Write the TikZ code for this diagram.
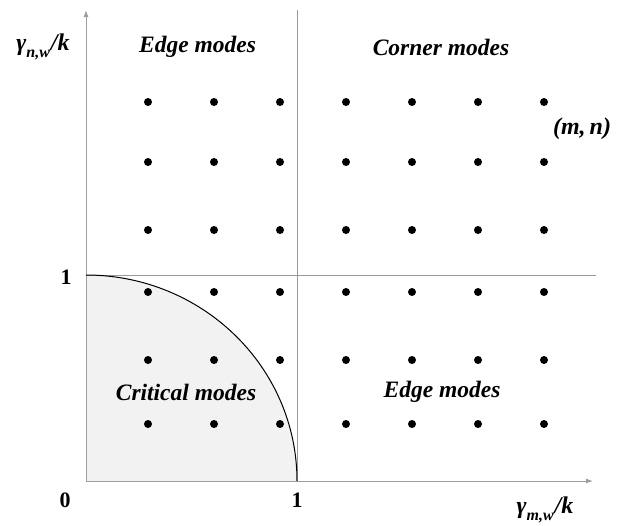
\documentclass[tikz,border=0pt]{standalone}
\usepackage{fontspec}
\setmainfont{Liberation Serif}
\usetikzlibrary{arrows.meta}
\newcommand{\subtxt}[1]{\raisebox{-0.3em}{\fontsize{16}{16}\selectfont #1}}
\tikzset{
  axis/.style={draw=black!38, line width=1pt, -{Latex[length=7pt,width=5pt]}},
  guide/.style={draw=black!40, line width=0.7pt},
  dot/.style={circle, fill=black, inner sep=0pt, minimum size=8pt},
  region/.style={font=\fontsize{23.5}{26}\selectfont\bfseries\itshape},
  tick/.style={font=\fontsize{22}{24}\selectfont\bfseries},
  axlabel/.style={font=\fontsize{24}{26}\selectfont\bfseries\itshape},
}
\begin{document}
\begin{tikzpicture}[x=1pt,y=-1pt]
\useasboundingbox (0,0) rectangle (620,525);
\coordinate (O) at (86,481);
\coordinate (Y1) at (86,275);
\coordinate (X1) at (297,481);
\coordinate (Ytop) at (86,10);
\coordinate (Xend) at (593,481);
\coordinate (Vtop) at (297,10);
\coordinate (Hend) at (596,275);
% shaded critical region
\fill[black!5] (O) -- (Y1) arc[start angle=-90, end angle=0, x radius=211, y radius=206] -- cycle;
% guide lines
\draw[guide] (X1) -- (Vtop);
\draw[guide] (Y1) -- (Hend);
% axes
\draw[axis] (O) -- (Ytop);
\draw[axis] (O) -- (Xend);
% arc
\draw[black, line width=1pt] (Y1) arc[start angle=-90, end angle=0, x radius=211, y radius=206];
% dots
\foreach \c/\x in {1/148,2/214,3/280,4/346,5/412,6/478,7/544}{
  \foreach \r/\y in {1/102,2/162,3/230,4/292,5/360,6/424}{
    \node[dot] (d\c\r) at (\x,\y) {};
  }
}
% labels
\node[region] (tl) at (197.5,47) {Edge modes};
\node[region] (tr) at (441,47) {Corner modes};
\node[region] (bl) at (186,392) {Critical modes};
\node[region] (br) at (442,392) {Edge modes};
\node[axlabel] (mn) at (582,129) {(m,\,n)};
\node[tick] (one y) at (66,277) {1};
\node[tick] (zero) at (65,500) {0};
\node[tick] (one x) at (297,500) {1};
\node[axlabel] (ylab) at (43,47) {γ\subtxt{n,w}\kern1pt/k};
\node[axlabel] (xlab) at (545,510) {γ\subtxt{m,w}\kern1pt/k};
\end{tikzpicture}
\end{document}
